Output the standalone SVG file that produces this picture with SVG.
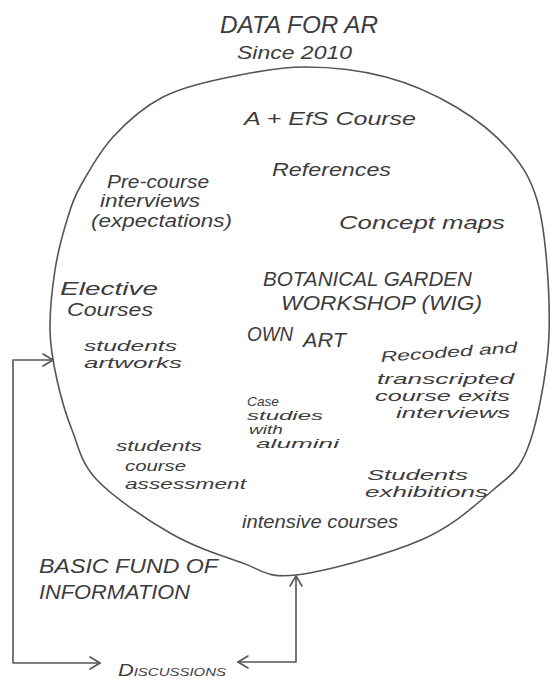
<svg xmlns="http://www.w3.org/2000/svg" width="550" height="679" viewBox="0 0 550 679">
  <defs>
    <style>
      .ink { fill: none; stroke: #555; stroke-width: 1.6; stroke-linecap: round; stroke-linejoin: round; }
      text { font-family: "Liberation Sans", "DejaVu Sans", sans-serif; fill: #3c3c3c; font-style: italic; }
      .t18 { font-size: 18px; }
      .t16 { font-size: 15px; }
      .t14 { font-size: 13px; }
      .caps { font-size: 21px; }
      .big { font-size: 24px; }
      .sc { font-size: 16px; font-variant: small-caps; }
    </style>
    <marker id="arrow" viewBox="0 0 12 14" refX="11" refY="7" markerWidth="12" markerHeight="14" markerUnits="userSpaceOnUse" orient="auto-start-reverse">
      <path d="M1,1 L11,7 L1,13" fill="none" stroke="#555" stroke-width="1.6" stroke-linecap="round" stroke-linejoin="round"/>
    </marker>
  </defs>

  <rect width="550" height="679" fill="#ffffff"/>

  <!-- heading above the pool -->
  <g id="title">
    <text class="big" x="220" y="33" textLength="158" lengthAdjust="spacingAndGlyphs">DATA FOR AR</text>
    <text class="t18" x="237" y="59" textLength="115" lengthAdjust="spacingAndGlyphs">Since 2010</text>
  </g>

  <!-- the hand-drawn pool of data sources -->
  <g id="data-pool">
    <path class="ink" d="M305,67 C331,67 360.8,70.3 386,77 C411.2,83.7 435.5,94.8 456,107 C476.5,119.2 495.5,134.5 509,150 C522.5,165.5 530.5,178.3 537,200 C543.5,221.7 546.3,253.3 548,280 C549.7,306.7 550.5,331.7 547,360 C543.5,388.3 536,428.3 527,450 C518,471.7 510.7,475 493,490 C475.3,505 453.8,525.8 421,540 C388.2,554.2 326.2,571.3 296,575 C265.8,578.7 261,569 240,562 C219,555 193.8,546.7 170,533 C146.2,519.3 113.3,497.2 97,480 C80.7,462.8 78.7,446.7 72,430 C65.3,413.3 60.7,396.7 57,380 C53.3,363.3 50.3,348.3 50,330 C49.7,311.7 52.2,288.3 55,270 C57.8,251.7 62.8,233.8 67,220 C71.2,206.2 72.3,200.8 80,187 C87.7,173.2 99.2,152 113,137 C126.8,122 143.5,107 163,97 C182.5,87 206.3,82 230,77 C253.7,72 279,67 305,67 Z"/>
  </g>

  <g id="aefs-course">
    <text class="t18" x="244" y="125" textLength="172" lengthAdjust="spacingAndGlyphs">A + EfS Course</text>
  </g>
  <g id="references">
    <text class="t18" x="272" y="176" textLength="119" lengthAdjust="spacingAndGlyphs" font-size="20">References</text>
  </g>
  <g id="pre-course-interviews">
    <text class="t18" x="107" y="188" textLength="102" lengthAdjust="spacingAndGlyphs">Pre-course</text>
    <text class="t18" x="100" y="207" textLength="100" lengthAdjust="spacingAndGlyphs">interviews</text>
    <text class="t18" x="91" y="227" textLength="141" lengthAdjust="spacingAndGlyphs">(expectations)</text>
  </g>
  <g id="concept-maps">
    <text class="t18" x="339" y="229" textLength="166" lengthAdjust="spacingAndGlyphs">Concept maps</text>
  </g>
  <g id="botanical-garden-workshop">
    <text class="caps" x="263" y="286" textLength="209" lengthAdjust="spacingAndGlyphs">BOTANICAL GARDEN</text>
    <text class="caps" x="281" y="310" textLength="201" lengthAdjust="spacingAndGlyphs">WORKSHOP (WIG)</text>
  </g>
  <g id="elective-courses">
    <text class="t18" x="60" y="295" textLength="98" lengthAdjust="spacingAndGlyphs">Elective</text>
    <text class="t18" x="67" y="316" textLength="86" lengthAdjust="spacingAndGlyphs">Courses</text>
  </g>
  <g id="own-art">
    <text class="caps" x="247" y="341" textLength="46" lengthAdjust="spacingAndGlyphs">OWN</text>
    <text class="caps" x="303" y="347" textLength="43" lengthAdjust="spacingAndGlyphs">ART</text>
  </g>
  <g id="students-artworks">
    <text class="t16" x="84" y="351" textLength="93" lengthAdjust="spacingAndGlyphs">students</text>
    <text class="t16" x="84" y="368" textLength="98" lengthAdjust="spacingAndGlyphs">artworks</text>
  </g>
  <g id="exit-interviews">
    <text class="t16" x="381" y="362" textLength="137" lengthAdjust="spacingAndGlyphs" transform="rotate(-4 381 362)">Recoded and</text>
    <text class="t16" x="377" y="384" textLength="137" lengthAdjust="spacingAndGlyphs">transcripted</text>
    <text class="t16" x="375" y="401" textLength="135" lengthAdjust="spacingAndGlyphs">course exits</text>
    <text class="t16" x="396" y="418" textLength="114" lengthAdjust="spacingAndGlyphs">interviews</text>
  </g>
  <g id="case-studies">
    <text class="t14" x="247" y="406" textLength="32" lengthAdjust="spacingAndGlyphs">Case</text>
    <text class="t14" x="247" y="420" textLength="76" lengthAdjust="spacingAndGlyphs">studies</text>
    <text class="t14" x="249" y="434" textLength="34" lengthAdjust="spacingAndGlyphs">with</text>
    <text class="t14" x="256" y="448" textLength="83" lengthAdjust="spacingAndGlyphs">alumini</text>
  </g>
  <g id="course-assessment">
    <text class="t16" x="116" y="451" textLength="86" lengthAdjust="spacingAndGlyphs">students</text>
    <text class="t16" x="125" y="471" textLength="61" lengthAdjust="spacingAndGlyphs">course</text>
    <text class="t16" x="125" y="489" textLength="121" lengthAdjust="spacingAndGlyphs">assessment</text>
  </g>
  <g id="students-exhibitions">
    <text class="t16" x="367" y="480" textLength="101" lengthAdjust="spacingAndGlyphs">Students</text>
    <text class="t16" x="365" y="497" textLength="123" lengthAdjust="spacingAndGlyphs">exhibitions</text>
  </g>
  <g id="intensive-courses">
    <text class="t18" x="242" y="528" textLength="156" lengthAdjust="spacingAndGlyphs">intensive courses</text>
  </g>

  <g id="basic-fund">
    <text class="caps" x="39" y="573" textLength="179" lengthAdjust="spacingAndGlyphs">BASIC FUND OF</text>
    <text class="caps" x="39" y="599" textLength="151" lengthAdjust="spacingAndGlyphs">INFORMATION</text>
  </g>
  <g id="discussions">
    <text class="sc" x="118" y="676" textLength="108" lengthAdjust="spacingAndGlyphs">Discussions</text>
  </g>

  <!-- feedback loop: pool -> discussions -> back into the pool -->
  <g id="connectors">
    <path class="ink" d="M53,360 H13 V663 H100" marker-start="url(#arrow)" marker-end="url(#arrow)"/>
    <path class="ink" d="M238,662 H296 V576" marker-start="url(#arrow)" marker-end="url(#arrow)"/>
  </g>
</svg>
